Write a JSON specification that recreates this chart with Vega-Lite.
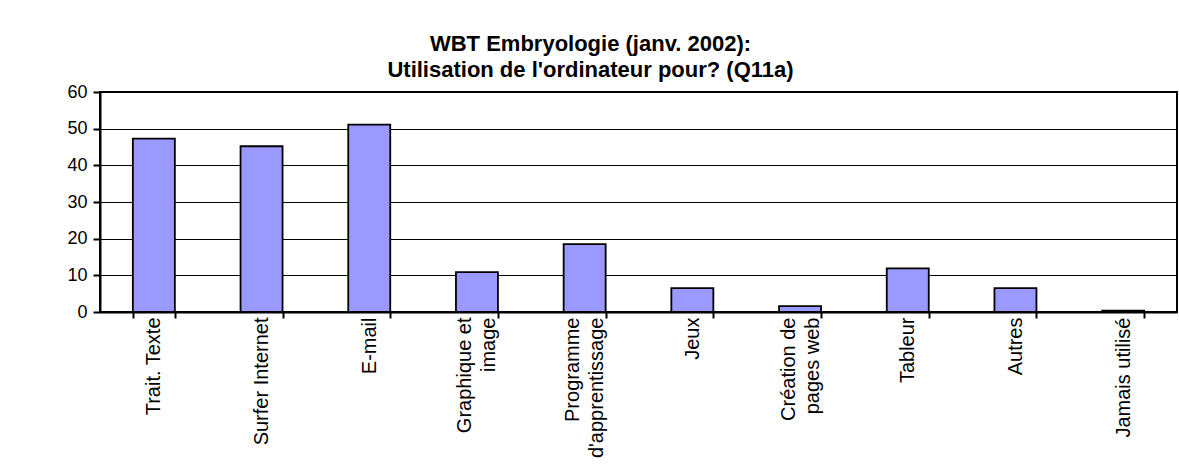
{
  "$schema": "https://vega.github.io/schema/vega-lite/v6.json",
  "width": 1077,
  "height": 220,
  "autosize": "none",
  "padding": {"left": 100, "top": 92, "right": 2, "bottom": 162},
  "background": "white",
  "title": {
    "text": ["WBT Embryologie (janv. 2002):", "Utilisation de l'ordinateur pour? (Q11a)"],
    "font": "Liberation Sans",
    "fontSize": 22,
    "fontWeight": "bold",
    "color": "black",
    "anchor": "middle",
    "frame": "group",
    "dx": -48,
    "baseline": "bottom",
    "offset": -21,
    "lineHeight": 26
  },
  "data": {
    "values": [
      {"usage": "Trait. Texte", "value": 47.3},
      {"usage": "Surfer Internet", "value": 45.2},
      {"usage": "E-mail", "value": 51.1},
      {"usage": "Graphique et image", "value": 10.9},
      {"usage": "Programme d'apprentissage", "value": 18.5},
      {"usage": "Jeux", "value": 6.5},
      {"usage": "Création de pages web", "value": 1.6},
      {"usage": "Tableur", "value": 11.9},
      {"usage": "Autres", "value": 6.5},
      {"usage": "Jamais utilisé", "value": 0.4}
    ]
  },
  "mark": {"type": "bar", "fill": "#9999FF", "stroke": "black", "strokeWidth": 1.8},
  "encoding": {
    "x": {
      "field": "usage",
      "type": "nominal",
      "sort": null,
      "scale": {"paddingInner": 0.61, "paddingOuter": 0.305},
      "axis": {
        "title": null,
        "labelAngle": -90,
        "labelFont": "Liberation Sans",
        "labelFontSize": 20,
        "labelColor": "black",
        "labelLineHeight": 24,
        "labelLimit": 400,
        "labelOverlap": false,
        "labelPadding": -1,
        "labelOffset": {
          "condition": {"test": "indexof(['Graphique et image', \"Programme d'apprentissage\", 'Création de pages web'], datum.value) >= 0", "value": -12},
          "value": 0
        },
        "tickBand": "extent",
        "tickColor": "black",
        "tickWidth": 2,
        "tickSize": 6,
        "domainColor": "black",
        "domainWidth": 2,
        "labelExpr": "datum.value == 'Graphique et image' ? ['Graphique et', 'image'] : datum.value == \"Programme d'apprentissage\" ? ['Programme', \"d'apprentissage\"] : datum.value == 'Création de pages web' ? ['Création de', 'pages web'] : datum.value"
      }
    },
    "y": {
      "field": "value",
      "type": "quantitative",
      "scale": {"domain": [0, 60], "nice": false},
      "axis": {
        "title": null,
        "values": [0, 10, 20, 30, 40, 50, 60],
        "grid": true,
        "gridColor": "black",
        "gridWidth": 1,
        "gridOpacity": 1,
        "tickSize": 7,
        "tickWidth": 2,
        "tickColor": "black",
        "domainColor": "black",
        "domainWidth": 2,
        "labelFont": "Liberation Sans",
        "labelFontSize": 18,
        "labelColor": "black",
        "labelPadding": 6
      }
    }
  },
  "config": {
    "view": {"stroke": "black", "strokeWidth": 2}
  }
}
